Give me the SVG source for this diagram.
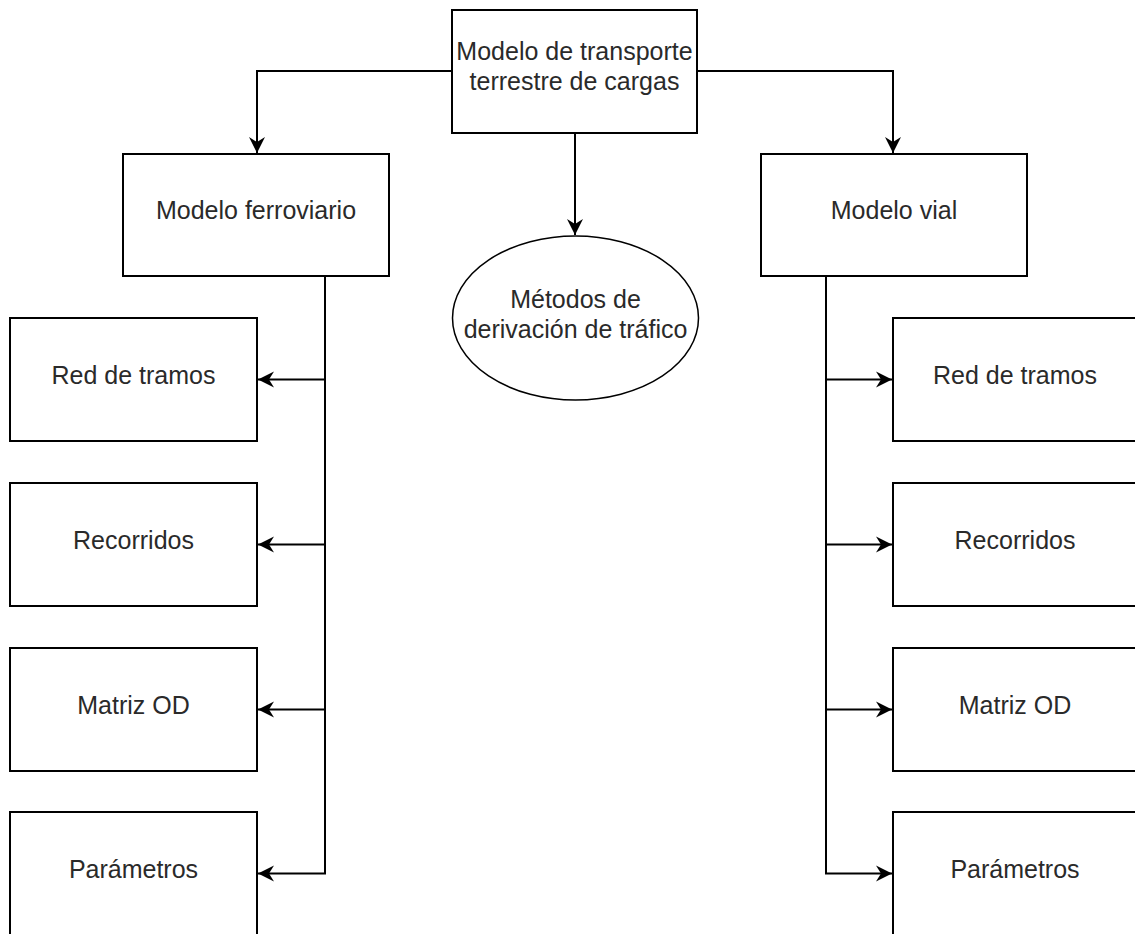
<svg xmlns="http://www.w3.org/2000/svg" width="1135" height="934" viewBox="0 0 1135 934">
<style>
.box{fill:#fff;stroke:#000;stroke-width:2}
.ell{fill:#fff;stroke:#000;stroke-width:1.5}
.lbl{font-family:"Liberation Sans",Arial,sans-serif;font-size:25px;fill:#2a2a2a;text-anchor:middle}
.edge{fill:none;stroke:#000;stroke-width:2;marker-end:url(#arr)}
</style>
<defs>
<marker id="arr" markerUnits="userSpaceOnUse" markerWidth="18" markerHeight="18" viewBox="0 0 18 18" refX="16" refY="9" orient="auto">
<path d="M0,1 L16,9 L0,17 L5,9 Z" fill="#000"/>
</marker>
</defs>
<rect width="1135" height="934" fill="#fff"/>
<g id="connectors">
<path class="edge" d="M452,71 H257 V153"/>
<path class="edge" d="M697,71 H893 V153"/>
<path class="edge" d="M575,133 V235"/>
<path class="edge" d="M325,277 V379.5 H258"/>
<path class="edge" d="M325,277 V544.5 H258"/>
<path class="edge" d="M325,277 V709.5 H258"/>
<path class="edge" d="M325,277 V873.5 H258"/>
<path class="edge" d="M826,277 V379.5 H892"/>
<path class="edge" d="M826,277 V544.5 H892"/>
<path class="edge" d="M826,277 V709.5 H892"/>
<path class="edge" d="M826,277 V873.5 H892"/>
</g>
<g id="top">
<rect class="box" x="452" y="10" width="245" height="123"/>
<text class="lbl" x="574.5" y="60">Modelo de transporte</text>
<text class="lbl" x="574.5" y="90">terrestre de cargas</text>
</g>
<g id="ferroviario">
<rect class="box" x="123" y="154" width="266" height="122"/>
<text class="lbl" x="256" y="219">Modelo ferroviario</text>
</g>
<g id="vial">
<rect class="box" x="761" y="154" width="266" height="122"/>
<text class="lbl" x="894" y="219">Modelo vial</text>
</g>
<g id="metodos">
<ellipse class="ell" cx="575.5" cy="318" rx="123" ry="82"/>
<text class="lbl" x="575.5" y="308">Métodos de</text>
<text class="lbl" x="575.5" y="338">derivación de tráfico</text>
</g>
<g id="f-red">
<rect class="box" x="10" y="318" width="247" height="123"/>
<text class="lbl" x="133.5" y="383.5">Red de tramos</text>
</g>
<g id="f-recorridos">
<rect class="box" x="10" y="483" width="247" height="123"/>
<text class="lbl" x="133.5" y="548.5">Recorridos</text>
</g>
<g id="f-matriz">
<rect class="box" x="10" y="648" width="247" height="123"/>
<text class="lbl" x="133.5" y="713.5">Matriz OD</text>
</g>
<g id="f-parametros">
<rect class="box" x="10" y="812" width="247" height="123"/>
<text class="lbl" x="133.5" y="877.5">Parámetros</text>
</g>
<g id="v-red">
<rect class="box" x="893" y="318" width="247" height="123"/>
<text class="lbl" x="1015" y="383.5">Red de tramos</text>
</g>
<g id="v-recorridos">
<rect class="box" x="893" y="483" width="247" height="123"/>
<text class="lbl" x="1015" y="548.5">Recorridos</text>
</g>
<g id="v-matriz">
<rect class="box" x="893" y="648" width="247" height="123"/>
<text class="lbl" x="1015" y="713.5">Matriz OD</text>
</g>
<g id="v-parametros">
<rect class="box" x="893" y="812" width="247" height="123"/>
<text class="lbl" x="1015" y="877.5">Parámetros</text>
</g>
</svg>
